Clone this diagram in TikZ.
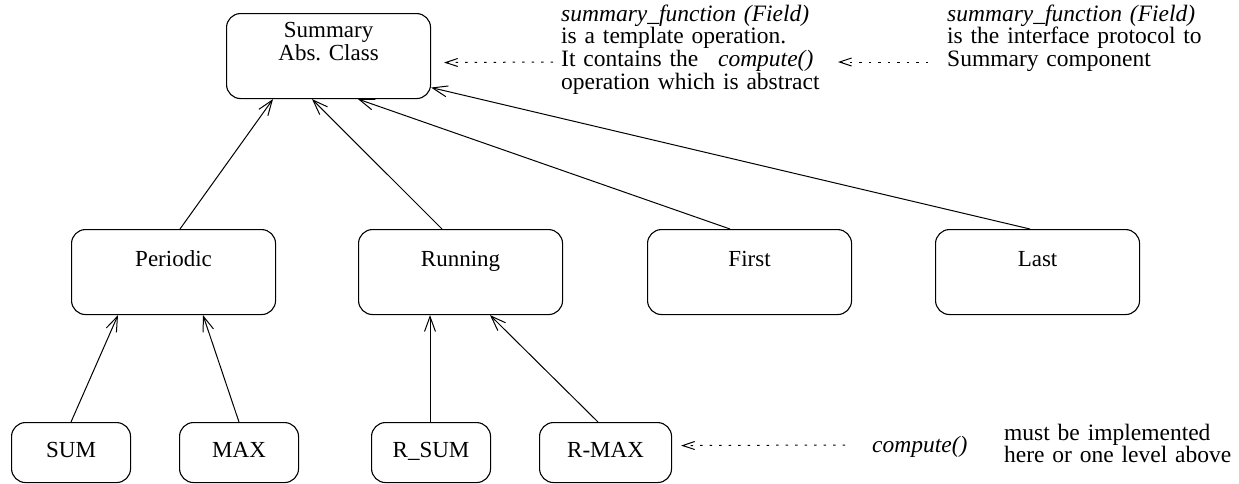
\documentclass[tikz,border=0pt]{standalone}
\usepackage{fontspec}
\setmainfont{Liberation Serif}
\usetikzlibrary{arrows.meta,calc}

\newcommand{\boxfont}{\fontsize{23pt}{22.5pt}\selectfont\frenchspacing}
\newcommand{\notefont}{\fontsize{23.5pt}{22.7pt}\selectfont\frenchspacing}

\tikzset{
  cls/.style={draw, rounded corners=14pt, line width=1.1pt, inner sep=0pt,
              text width=#1, align=center, font=\boxfont, anchor=north west},
  upper/.style={text height=37pt, text depth=48pt},
  lower/.style={text height=35pt, text depth=25pt},
  note/.style={inner sep=0pt, align=left, font=\notefont, anchor=base west},
  inh/.style={line width=1pt, -{Straight Barb[length=15pt,width=11pt,line width=1pt]}},
  dep/.style={line width=1pt, dash pattern=on 2.5pt off 7pt,
              -{Straight Barb[length=12pt,width=8pt,line width=1pt]}}
}

\begin{document}
\begin{tikzpicture}[x=1pt,y=-1pt]
\useasboundingbox (0,0) rectangle (1239,483);

% class boxes
\node[cls=204pt, text height=24pt, text depth=61pt] (summ) at (226,13) {Summary\\Abs. Class};

\node[cls=204pt, upper] (per)   at (71,229)  {Periodic};
\node[cls=204pt, upper] (run)   at (358,229) {Running};
\node[cls=204pt, upper] (first) at (647,229) {First};
\node[cls=204pt, upper] (last)  at (935,229) {Last};

\node[cls=119pt, lower] (sum)  at (11,422)  {SUM};
\node[cls=119pt, lower] (max)  at (179,422) {MAX};
\node[cls=119pt, lower] (rsum) at (371,422) {R\_SUM};
\node[cls=132pt, lower] (rmax) at (539,422) {R-MAX};

% inheritance arrows
\draw[inh] ($(per.north west)+(109,0)$)   -- ($(summ.south west)+(47,0)$);
\draw[inh] ($(run.north west)+(84,0)$)    -- ($(summ.south west)+(86,0)$);
\draw[inh] ($(first.north west)+(83,0)$)  -- ($(summ.south west)+(132,0)$);
\draw[inh] ($(last.north west)+(95,0)$)   -- ($(summ.east)+(0,31.5)$);

\draw[inh] ($(sum.north west)+(60,0)$)  -- ($(per.south west)+(47,0)$);
\draw[inh] ($(max.north west)+(60,0)$)  -- ($(per.south west)+(132,0)$);
\draw[inh] ($(rsum.north west)+(59,0)$) -- ($(run.south west)+(72,0)$);
\draw[inh] ($(rmax.north west)+(59,0)$) -- ($(run.south west)+(132,0)$);

% notes
\node[note, text width=275pt] (tmpl) at (561,21)
  {\textit{summary\_function (Field)}\\
   is a template operation.\\
   It contains the\hspace{12pt} \textit{compute()}\\
   operation which is abstract};

\node[note, text width=285pt] (proto) at (947,21)
  {\textit{summary\_function (Field)}\\
   is the interface protocol to\\
   Summary component};

\node[note] (comp) at (872,452) {\textit{compute()}};

\node[note, text width=230pt] (impl) at (1004,440)
  {must be implemented\\
   here or one level above};

% dependency arrows
\coordinate (d1) at (553,62);
\coordinate (d2) at (928,62);
\coordinate (d2t) at (838,62);
\coordinate (d3) at (845,445);

\draw[dep] (d1) -- ($(summ.east)+(13,6.5)$);
\draw[dep] (d2) -- (d2t);
\draw[dep] (d3) -- ($(rmax.east)+(9,-7)$);
\end{tikzpicture}
\end{document}
